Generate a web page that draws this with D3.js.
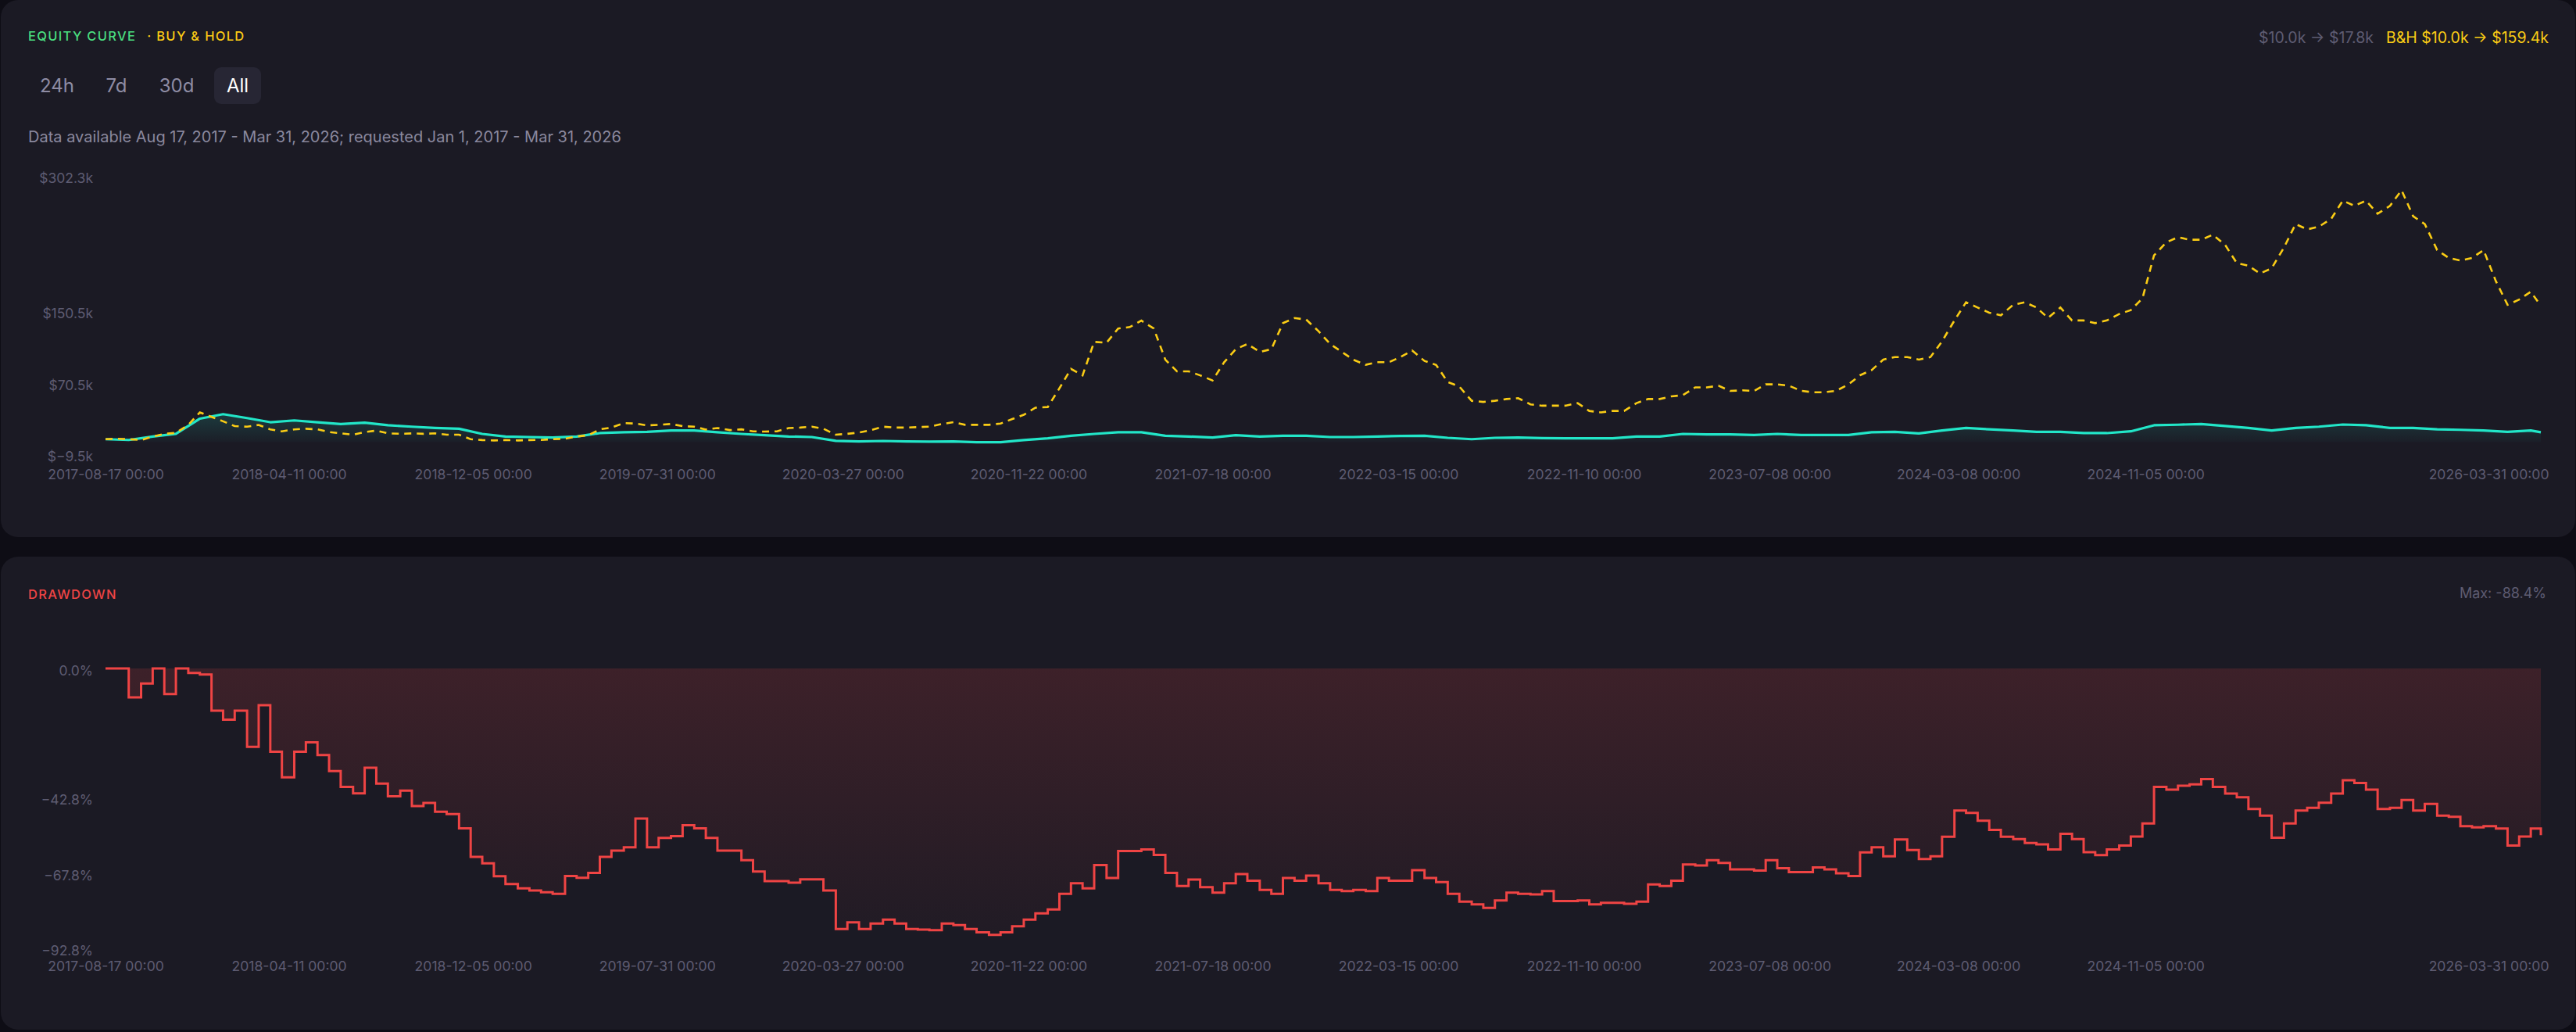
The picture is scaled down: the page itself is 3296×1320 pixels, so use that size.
<!DOCTYPE html>
<html>
<head>
<meta charset="utf-8">
<script src="https://cdn.jsdelivr.net/npm/d3@7"></script>
<style>
  html, body { margin: 0; padding: 0; background: #0e0d15; }
  svg { display: block; font-family: Inter, "Noto Sans", sans-serif; }
</style>
</head>
<body>
<svg id="chart"></svg>
<script>
const startDate = "2017-08-17";
const endDate = "2026-03-31";

// strategy equity, $k, one reading per month + final point
const equity = [
  10, 9.1, 13, 16, 33, 38, 33.6, 29, 31, 29,
  27, 28.5, 25.6, 24, 22.6, 21.7, 15.9, 13, 12.4, 11.8,
  13, 16.8, 17.7, 18.2, 19.7, 19.7, 17.7, 15.9, 14.5, 13,
  12.4, 8.1, 7.5, 8, 7.5, 7.2, 7.5, 6.6, 6.6, 9,
  11, 13.8, 15.9, 17.7, 17.7, 13.8, 13, 11.8, 14.5, 13,
  13.8, 13.8, 12.4, 12.4, 13, 13.6, 13.8, 11.5, 10, 11.5,
  11.8, 11.2, 11, 11, 11, 13, 13, 15.9, 15.3, 15.3,
  14.7, 15.9, 14.7, 14.7, 14.7, 17.7, 18.2, 16.5, 19.7, 22.6,
  21, 19.7, 18.2, 18.2, 16.8, 16.8, 18.8, 25.6, 26.2, 27,
  24.7, 22.6, 19.7, 22.6, 24, 26.4, 25.6, 22.6, 22.6, 21,
  20.5, 19.7, 18.2, 19.7,
  17.8
];

// buy & hold, $k, two readings per month + final point
const buyHold = [
  10, 10.5, 10, 9, 13, 16, 17, 26, 40, 35,
  30, 24.6, 24, 26, 21, 18.8, 21, 21.7, 21, 18,
  16.5, 15, 18, 19.6, 16.5, 16, 16.5, 16, 16.5, 15,
  15, 10, 9, 8.6, 9, 8.6, 9, 9.1, 10, 10.5,
  13, 14.4, 21, 23, 28, 27.5, 25.5, 26, 27, 24.6,
  24, 20.8, 22.5, 20.2, 21, 18.8, 18.5, 18.8, 22.5, 23,
  24, 21.7, 15, 16, 17.5, 20, 24, 23, 23, 23.5,
  24, 27, 29, 26.1, 26.1, 26.1, 27.5, 32.5, 37.3, 45.3,
  46, 66.9, 88.8, 81.5, 119, 118, 134, 135.6, 142.8, 134,
  99, 86, 86, 81.5, 75.7, 96.2, 110.8, 116.6, 107.8, 110.8,
  140, 145.7, 144, 131, 116.6, 107.8, 99, 93.3, 96.2, 96.2,
  102, 109.3, 97.6, 93.2, 74, 69, 53, 51.7, 53, 55,
  56, 49, 47.5, 47.5, 47.5, 50.4, 41.6, 40, 41.6, 41.6,
  50.4, 55, 55, 58, 59.3, 68, 68, 69.9, 64.1, 64.7,
  64.1, 71.4, 71.4, 69.9, 64.1, 62.6, 62.6, 64.1, 71.4, 81.6,
  87.4, 99.1, 102, 102, 99.1, 102, 119.6, 143, 163.4, 157.5,
  151.7, 148.8, 160.5, 163.4, 157.5, 145.8, 157.5, 143, 143, 140,
  143, 150.2, 154.6, 167.7, 215.9, 230.5, 236.3, 233.4, 233.4, 239,
  227.6, 207.2, 204.3, 195.6, 201.4, 224.7, 251, 245, 248, 256.8,
  277.2, 271.4, 277.2, 262.6, 271.4, 288.9, 259.7, 251, 221.8, 213,
  210.1, 213, 221.8, 186.8, 160.5, 166.4, 175.1,
  159.4
];

// drawdown %, two readings per month + final point
const drawdown = [
  0, 0, -9.6, -5, 0, -8.5, 0, -1.5, -2, -14,
  -17, -14, -26, -12.2, -27.6, -36.1, -27.6, -24.5, -28.7, -34,
  -39.3, -41.4, -32.9, -38.2, -42.4, -40.5, -45.6, -44.6, -47.5, -48.3,
  -53, -62.5, -64.6, -68.9, -71.5, -72.9, -73.6, -74.2, -74.7, -68.8,
  -69.4, -67.8, -62.5, -60.4, -59.3, -49.8, -59.3, -56.2, -55.6, -52,
  -53, -56.2, -60.4, -60.4, -63.6, -67.3, -70.5, -70.5, -71, -69.9,
  -69.9, -73.6, -86.4, -84.2, -86.4, -84.6, -83.3, -84.6, -86.4, -86.6,
  -86.8, -84.6, -85.1, -86.4, -87.5, -88.3, -87.5, -85.5, -83.3, -81.2,
  -79.9, -74.7, -71.2, -72.9, -65.2, -69.5, -60.5, -60.5, -60, -61.8,
  -67.8, -72.1, -70, -72.5, -74.3, -71.2, -68.2, -70.4, -73.4, -74.7,
  -69.5, -70.4, -68.7, -71.2, -73.4, -73.8, -73.4, -73.8, -69.5, -70.4,
  -70.4, -66.9, -69.5, -70.8, -74.7, -77.3, -78.2, -79.4, -76.9, -74.3,
  -74.7, -74.9, -73.8, -77.1, -77.1, -76.9, -78.2, -77.7, -77.7, -78,
  -77.3, -71.6, -72.1, -70.4, -65, -65.3, -63.6, -64.5, -66.6, -66.6,
  -67, -63.6, -66.2, -67.5, -67.5, -66, -66.6, -67.9, -68.8, -61,
  -59.3, -62.3, -56.7, -60.2, -63.2, -62.3, -55.8, -47.1, -47.9, -50.5,
  -53.5, -55.8, -56.6, -57.9, -58.3, -60, -54.8, -56.6, -60.9, -61.9,
  -60, -58.7, -55.7, -51.4, -39.3, -40.2, -38.9, -38.4, -36.7, -39.3,
  -41.5, -42.7, -46.6, -48.8, -56.1, -51.4, -47.1, -46.2, -44.5, -41.5,
  -37.1, -38, -40.2, -46.6, -46.2, -43.6, -47.1, -44.9, -48.8, -49.2,
  -52.3, -52.7, -52.3, -53.1, -58.7, -55.7, -53.1,
  -55.3
];

const xTickDates = ["2017-08-17", "2018-04-11", "2018-12-05", "2019-07-31", "2020-03-27",
  "2020-11-22", "2021-07-18", "2022-03-15", "2022-11-10", "2023-07-08",
  "2024-03-08", "2024-11-05", "2026-03-31"];
const equityTicks = [-9.5, 70.5, 150.5, 302.3];
const drawdownTicks = [0, -42.8, -67.8, -92.8];
const rangeButtons = ["24h", "7d", "30d", "All"];
const activeRange = "All";

const W = 3296, H = 1320;
const parse = d3.utcParse("%Y-%m-%d");
const fmtTick = d3.utcFormat("%Y-%m-%d %H:%M");
const t0 = parse(startDate), t1 = parse(endDate);

// sample dates: regular steps from the start, last point on the end date
const sampleDates = (n, perMonth) => d3.range(n).map(i =>
  i === n - 1 ? t1 : d3.utcDay.offset(t0, Math.round(i * 30.44 / perMonth)));
const monthDates = sampleDates(equity.length, 1);
const halfDates = sampleDates(drawdown.length, 2);

const svg = d3.select("#chart").attr("width", W).attr("height", H);
const defs = svg.append("defs");

const C = {
  panel: "#1b1a24", muted: "#5e5c72", text: "#8a889e",
  cyan: "#22e6c8", yellow: "#facc15", green: "#4ade80", red: "#ef4444"
};

// panels
svg.append("rect").attr("x", 1).attr("y", 0).attr("width", W - 2).attr("height", 687)
  .attr("rx", 22).attr("fill", C.panel);
svg.append("rect").attr("x", 1).attr("y", 712).attr("width", W - 2).attr("height", 605)
  .attr("rx", 22).attr("fill", C.panel);

const x = d3.scaleUtc().domain([t0, t1]).range([135, 3251]);

// ---------- equity panel ----------
const yE = d3.scaleLinear().domain([-9.5, 302.3]).range([584, 228]);

const title = svg.append("text").attr("x", 36).attr("y", 52)
  .attr("font-size", 16.5).attr("font-weight", 500).attr("letter-spacing", 1.3);
title.append("tspan").attr("fill", C.green).text("EQUITY CURVE");
title.append("tspan").attr("fill", C.yellow).attr("dx", 14).text("· BUY & HOLD");

const summary = svg.append("text").attr("x", 3261).attr("y", 48).attr("dy", "0.35em")
  .attr("text-anchor", "end").attr("font-size", 19.5);
summary.append("tspan").attr("fill", C.muted).text("$10.0k → $17.8k");
summary.append("tspan").attr("fill", C.yellow).attr("dx", 16).text("B&H $10.0k → $159.4k");

const btnX = d3.scaleOrdinal().domain(rangeButtons).range([73, 149, 226, 304]);
const btn = svg.append("g").selectAll("g").data(rangeButtons).enter().append("g")
  .attr("transform", d => `translate(${btnX(d)},110)`);
btn.filter(d => d === activeRange).append("rect")
  .attr("x", -30).attr("y", -24).attr("width", 60).attr("height", 47).attr("rx", 9)
  .attr("fill", "#272634");
btn.append("text").attr("text-anchor", "middle").attr("dy", "0.35em").attr("font-size", 24)
  .attr("fill", d => d === activeRange ? "#ffffff" : "#8e8ca4").text(d => d);

svg.append("text").attr("x", 36).attr("y", 175).attr("dy", "0.35em")
  .attr("font-size", 20).attr("fill", C.text)
  .text("Data available Aug 17, 2017 - Mar 31, 2026; requested Jan 1, 2017 - Mar 31, 2026");

const eqData = monthDates.map((d, i) => ({ date: d, v: equity[i] }));
const bhData = halfDates.map((d, i) => ({ date: d, v: buyHold[i] }));

const eqGrad = defs.append("linearGradient").attr("id", "eqFill")
  .attr("gradientUnits", "userSpaceOnUse")
  .attr("x1", 0).attr("x2", 0).attr("y1", yE(d3.max(equity))).attr("y2", yE(d3.min(equity)));
eqGrad.append("stop").attr("offset", 0).attr("stop-color", C.cyan).attr("stop-opacity", 0.16);
eqGrad.append("stop").attr("offset", 1).attr("stop-color", C.cyan).attr("stop-opacity", 0.02);

svg.append("path").datum(eqData).attr("fill", "url(#eqFill)")
  .attr("d", d3.area().x(d => x(d.date)).y0(yE(d3.min(equity))).y1(d => yE(d.v)));
svg.append("path").datum(eqData).attr("fill", "none").attr("stroke", C.cyan)
  .attr("stroke-width", 3.2).attr("stroke-linejoin", "round")
  .attr("d", d3.line().x(d => x(d.date)).y(d => yE(d.v)));
svg.append("path").datum(bhData).attr("fill", "none").attr("stroke", C.yellow)
  .attr("stroke-width", 2.6).attr("stroke-dasharray", "9,7")
  .attr("d", d3.line().x(d => x(d.date)).y(d => yE(d.v)));

function styleAxis(g) {
  g.select(".domain").remove();
  g.selectAll("text").attr("fill", C.muted).attr("font-size", 17.5)
    .attr("font-family", "Inter, 'Noto Sans', sans-serif");
}

const fmtMoney = v => "$" + d3.format(".1f")(v) + "k";
svg.append("g").attr("transform", "translate(119,0)")
  .call(d3.axisLeft(yE).tickValues(equityTicks).tickSize(0).tickPadding(0).tickFormat(fmtMoney))
  .call(styleAxis);

function xAxis(yPos, labelOffset) {
  const g = svg.append("g").attr("transform", `translate(0,${yPos})`)
    .call(d3.axisBottom(x).tickValues(xTickDates.map(parse)).tickSize(0).tickFormat(fmtTick))
    .call(styleAxis);
  g.selectAll("text").attr("y", labelOffset).attr("dy", "0.35em").attr("font-size", 17.6);
  g.selectAll(".tick").filter(d => +d === +t1).select("text")
    .attr("text-anchor", "end").attr("x", 10);
}
xAxis(584, 23);

// ---------- drawdown panel ----------
const yD = d3.scaleLinear().domain([-92.8, 0]).range([1213, 855]);

svg.append("text").attr("x", 36).attr("y", 760).attr("dy", "0.35em")
  .attr("font-size", 16.5).attr("font-weight", 500).attr("letter-spacing", 1.3)
  .attr("fill", C.red).text("DRAWDOWN");
svg.append("text").attr("x", 3258).attr("y", 759).attr("dy", "0.35em")
  .attr("text-anchor", "end").attr("font-size", 18).attr("fill", C.muted)
  .text("Max: -88.4%");

const ddData = halfDates.map((d, i) => ({ date: d, v: drawdown[i] }));

const ddGrad = defs.append("linearGradient").attr("id", "ddFill")
  .attr("gradientUnits", "userSpaceOnUse")
  .attr("x1", 0).attr("x2", 0).attr("y1", yD(0)).attr("y2", yD(-92.8));
ddGrad.append("stop").attr("offset", 0).attr("stop-color", C.red).attr("stop-opacity", 0.16);
ddGrad.append("stop").attr("offset", 1).attr("stop-color", C.red).attr("stop-opacity", 0.02);

svg.append("path").datum(ddData).attr("fill", "url(#ddFill)")
  .attr("d", d3.area().curve(d3.curveStepAfter).x(d => x(d.date)).y0(yD(0)).y1(d => yD(d.v)));
svg.append("path").datum(ddData).attr("fill", "none").attr("stroke", C.red)
  .attr("stroke-width", 3).attr("stroke-linejoin", "miter")
  .attr("d", d3.line().curve(d3.curveStepAfter).x(d => x(d.date)).y(d => yD(d.v)));

svg.append("g").attr("transform", "translate(119,3)")
  .call(d3.axisLeft(yD).tickValues(drawdownTicks).tickSize(0).tickPadding(0)
    .tickFormat(v => d3.format(".1f")(v) + "%"))
  .call(styleAxis);

xAxis(1213, 23);
</script>
</body>
</html>
